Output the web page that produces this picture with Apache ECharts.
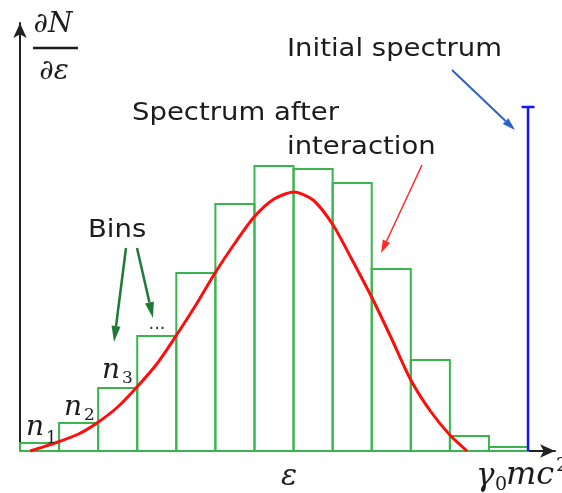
<!DOCTYPE html>
<html>
<head>
<meta charset="utf-8">
<script src="https://cdn.jsdelivr.net/npm/echarts@6/dist/echarts.min.js"></script>
<style>
html,body{margin:0;padding:0;background:#fff;}
#chart{width:562px;height:493px;}
</style>
</head>
<body>
<div id="chart"></div>
<script>
/*bin heights, one bin per unit of x*/
var binHeights = [8, 28, 63, 115, 178, 247, 285, 282, 268, 182, 91, 15, 4];
/*spectrum after interaction*/
var curveX = [0.26, 0.5, 0.97, 1.5, 1.97, 2.5, 2.97, 3.5, 3.99, 4.5, 4.99, 5.5, 5.99, 6.5, 7.01, 7.5, 8.01, 8.5, 9.01, 9.5, 10.0, 10.5, 11.0, 11.44];
var curveY = [0, 3, 9, 17, 28, 44, 63, 87, 115, 146, 178, 208, 234, 252, 259, 251, 226, 191, 153, 113, 71, 40, 16, 0];
/*initial spectrum (single line)*/
var initialX = [13];
var initialY = [344];

var xMax = 13.69;
var yMax = 428;

var myChart = echarts.init(document.getElementById('chart'));

var binData = [];
for (var i = 0; i < binHeights.length; i++) {
    binData.push([i, binHeights[i]]);
}
var curveData = [];
for (var i = 0; i < curveX.length; i++) {
    curveData.push([curveX[i], curveY[i]]);
}
var initialData = [];
for (var i = 0; i < initialX.length; i++) {
    initialData.push([initialX[i], initialY[i]]);
}

/*arrow = line + triangle head*/
function arrow(x1, y1, x2, y2, color, w, hl, hw) {
    var a = Math.atan2(y2 - y1, x2 - x1);
    var bx = x2 - hl * Math.cos(a), by = y2 - hl * Math.sin(a);
    var nx = -Math.sin(a) * hw / 2, ny = Math.cos(a) * hw / 2;
    return [{
        type: 'line',
        shape: {x1: x1, y1: y1, x2: bx, y2: by},
        style: {stroke: color, lineWidth: w}
    }, {
        type: 'polygon',
        shape: {points: [[x2, y2], [bx + nx, by + ny], [bx - nx, by - ny]]},
        style: {fill: color}
    }];
}

var sans = 'DejaVu Sans';
var serif = 'DejaVu Serif';
var txtColor = '#1c1c1c';

function label(text, x, y, size, opt) {
    opt = opt || {};
    return {
        type: 'text',
        x: x, y: y,
        scaleX: opt.scaleX || 1,
        style: {
            text: text,
            fill: opt.color || txtColor,
            font: (opt.italic ? 'italic ' : '') + size + 'px "' + (opt.family || sans) + '"',
            align: opt.align || 'left',
            verticalAlign: 'middle'
        },
        z: 10
    };
}

var graphics = [];
graphics = graphics.concat(arrow(422, 165, 381, 253, '#ff2a2a', 1.5, 13, 8));
graphics = graphics.concat(arrow(452, 70, 515, 130, '#2a62c9', 2, 13, 8));
graphics = graphics.concat(arrow(126, 248, 114, 342, '#1e7a36', 2.5, 16, 9));
graphics = graphics.concat(arrow(137, 248, 153, 318, '#1e7a36', 2.5, 16, 9));

graphics.push(label('Initial spectrum', 287, 49, 25, {scaleX: 1.1}));
graphics.push(label('Spectrum after', 132, 113, 25, {scaleX: 1.1}));
graphics.push(label('interaction', 287, 147, 25, {scaleX: 1.1}));
graphics.push(label('Bins', 88, 230, 25, {scaleX: 1.1}));

/*dN/de*/
graphics.push(label('\u2202N', 53, 25, 28, {family: serif, italic: true, align: 'center'}));
graphics.push({type: 'line', shape: {x1: 33, y1: 48, x2: 78, y2: 48}, style: {stroke: txtColor, lineWidth: 2.5}});
graphics.push(label('\u2202\u03b5', 54, 72, 28, {family: serif, italic: true, align: 'center'}));

graphics.push(label('\u03b5', 289, 477, 30, {family: serif, italic: true, align: 'center'}));
graphics.push(label('\u03b3', 476, 477, 31, {family: serif, italic: true}));
graphics.push(label('0', 495, 485, 19, {family: serif}));
graphics.push(label('mc', 506, 476, 32, {family: serif, italic: true}));
graphics.push(label('2', 556, 466, 19, {family: serif}));

graphics.push(label('n', 26, 428, 28, {family: serif, italic: true}));
graphics.push(label('1', 46, 439, 17, {family: serif}));
graphics.push(label('n', 64, 408, 28, {family: serif, italic: true}));
graphics.push(label('2', 84, 416, 17, {family: serif}));
graphics.push(label('n', 102, 371, 28, {family: serif, italic: true}));
graphics.push(label('3', 122, 379, 17, {family: serif}));
graphics.push(label('...', 157, 324, 18, {align: 'center', color: '#333'}));

myChart.setOption({
    animation: false,
    grid: {left: 20, right: 7, top: 23, bottom: 42},
    xAxis: {
        type: 'value', min: 0, max: xMax,
        axisLine: {show: true, symbol: ['none', 'arrow'], symbolSize: [10, 15], lineStyle: {color: '#222', width: 2}},
        axisTick: {show: false}, axisLabel: {show: false}, splitLine: {show: false}
    },
    yAxis: {
        type: 'value', min: 0, max: yMax,
        axisLine: {show: true, symbol: ['none', 'arrow'], symbolSize: [10, 15], lineStyle: {color: '#222', width: 2}},
        axisTick: {show: false}, axisLabel: {show: false}, splitLine: {show: false}
    },
    graphic: graphics,
    series: [{
        type: 'custom',
        name: 'Bins',
        data: binData,
        renderItem: function (params, api) {
            var p0 = api.coord([api.value(0), api.value(1)]);
            var p1 = api.coord([api.value(0) + 1, 0]);
            return {
                type: 'rect',
                shape: {x: p0[0], y: p0[1], width: p1[0] - p0[0], height: p1[1] - p0[1]},
                style: {fill: 'none', stroke: '#3ab54e', lineWidth: 2}
            };
        },
        z: 2
    }, {
        type: 'line',
        name: 'Spectrum after interaction',
        data: curveData,
        smooth: 0.25,
        showSymbol: false,
        lineStyle: {color: '#ff0d0d', width: 3},
        z: 3
    }, {
        type: 'custom',
        name: 'Initial spectrum',
        data: initialData,
        renderItem: function (params, api) {
            var p0 = api.coord([api.value(0), 0]);
            var p1 = api.coord([api.value(0), api.value(1)]);
            return {
                type: 'group',
                children: [{
                    type: 'line',
                    shape: {x1: p0[0], y1: p0[1], x2: p1[0], y2: p1[1]},
                    style: {stroke: '#1414ff', lineWidth: 2.5}
                }, {
                    type: 'line',
                    shape: {x1: p1[0] - 6.5, y1: p1[1], x2: p1[0] + 6.5, y2: p1[1]},
                    style: {stroke: '#1414ff', lineWidth: 2.5}
                }]
            };
        },
        z: 4
    }]
});
</script>
</body>
</html>
